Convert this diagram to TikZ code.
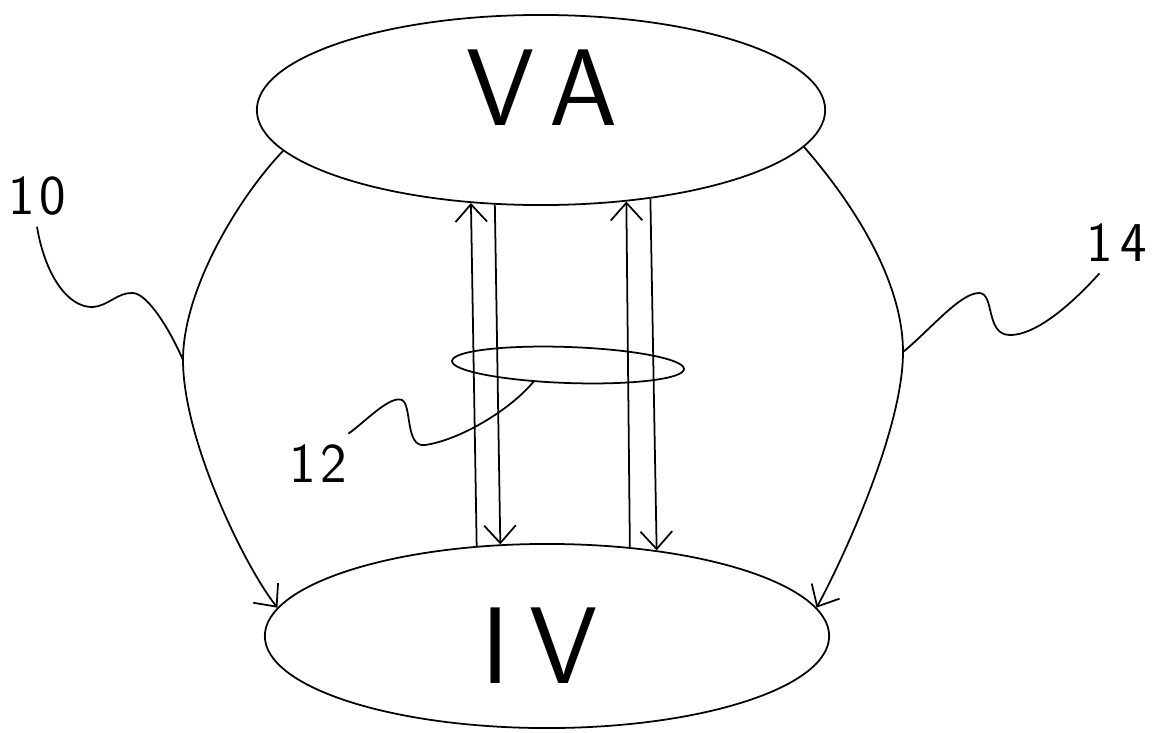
\documentclass[tikz,border=0pt]{standalone}
\usetikzlibrary{shapes.geometric,arrows.meta}

\begin{document}
\begin{tikzpicture}[x=0.01cm,y=-0.01cm,line width=0.5pt,>={Straight Barb[length=5pt,width=9pt]},
	chamber/.style={draw,ellipse,inner sep=0pt},
	big/.style={inner sep=0pt,font=\sffamily\fontsize{31}{31}\selectfont},
	tag/.style={inner sep=3pt,font=\sffamily\fontsize{16}{16}\selectfont}]
	\useasboundingbox (0,0) rectangle (1154,733);
	% the two chambers
	\draw (541,110) node[chamber,minimum width=5.68cm,minimum height=1.9cm] (va) {};
	\draw (547,636) node[chamber,minimum width=5.64cm,minimum height=1.84cm] (iv) {};
	\draw (542,88) node[big] (valbl) {V\kern1.5mm A};
	\draw (540,646) node[big] (ivlbl) {I\kern2mm V};
	% reference numerals
	\draw (37,196) node[tag] (n10) {1\kern0.5mm0};
	\draw (318,464) node[tag] (n12) {1\kern0.5mm2};
	\draw (1117,243) node[tag] (n14) {1\kern0.8mm4};
	% paired conduction paths
	\draw[<-] (va.233) -- (iv.128);
	\draw[->] (va.244) -- (iv.117);
	\draw[<-] (va.313) -- (iv.47);
	\draw[->] (va.321) -- (iv.38);
	\draw (568,365) node[draw,ellipse,minimum width=2.32cm,minimum height=0.36cm,inner sep=0pt,rotate=-2] (bundle) {};
	% outer paths
	\draw[->] (va.189) .. controls (238,198) and (183,290) .. (183,360) coordinate (lft)
		.. controls (183,440) and (245,567) .. (iv.174);
	\draw[->] (va.352) .. controls (852,202) and (903,280) .. (903,352) coordinate (rgt)
		.. controls (903,430) and (842,561) .. (iv.6);
	% leaders
	\draw (n10.south) .. controls (45,275) and (68,308) .. (93,307)
		.. controls (108,306) and (118,292) .. (133,293)
		.. controls (148,294) and (170,330) .. (lft);
	\draw (n12.45) .. controls (365,422) and (390,395) .. (402,400)
		.. controls (412,405) and (405,448) .. (425,445)
		.. controls (460,440) and (510,410) .. (bundle.208);
	\draw (rgt) .. controls (930,330) and (960,293) .. (979,293)
		.. controls (995,293) and (985,335) .. (1010,335)
		.. controls (1040,335) and (1080,295) .. (n14.240);
\end{tikzpicture}
\end{document}
